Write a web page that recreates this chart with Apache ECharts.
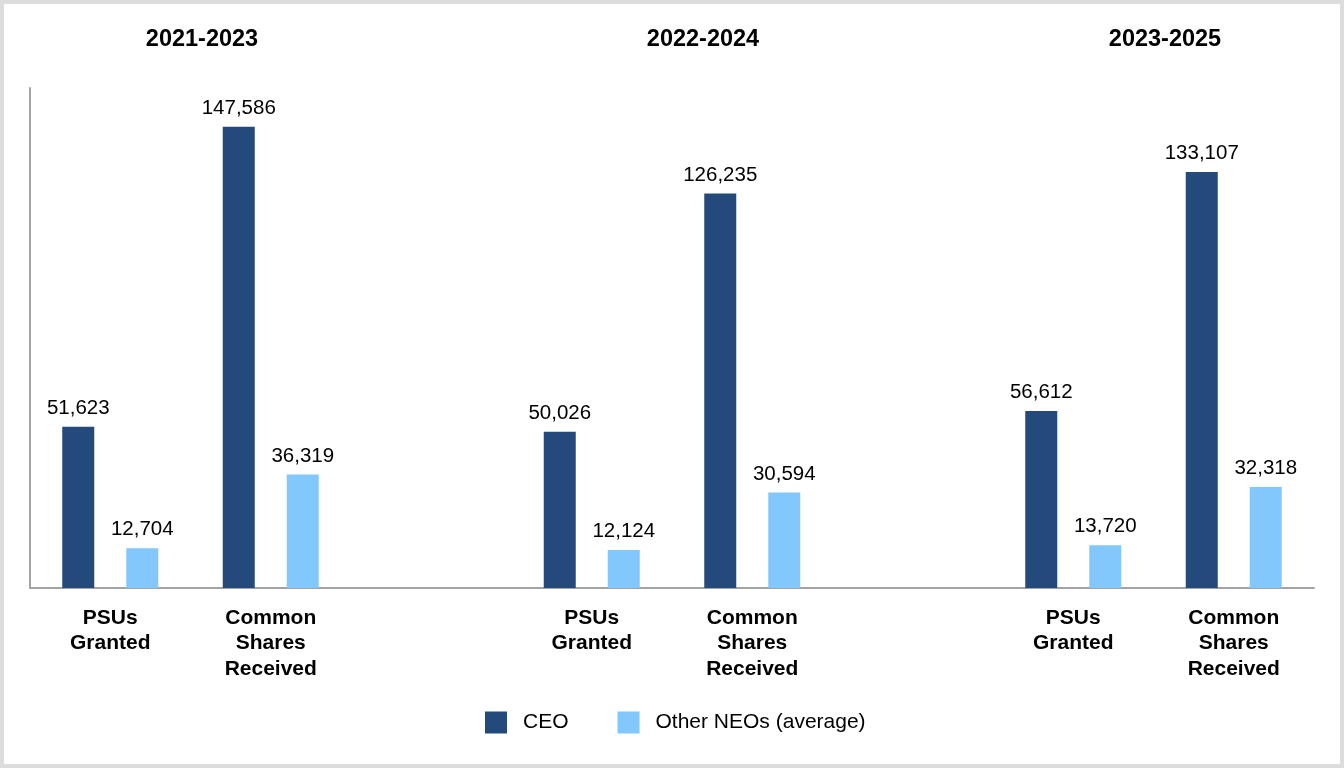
<!DOCTYPE html>
<html>
<head>
<meta charset="utf-8">
<script src="https://cdn.jsdelivr.net/npm/echarts@6/dist/echarts.min.js"></script>
<style>
html,body{margin:0;padding:0;background:#fff;}
#chart{width:1344px;height:768px;}
</style>
</head>
<body>
<div id="chart"></div>
<script>
const periods = ['2021-2023', '2022-2024', '2023-2025'];
const categoryKeys = ['psu1', 'csr1', 'gap1', 'psu2', 'csr2', 'gap2', 'psu3', 'csr3'];
const categoryLabels = ['PSUs\nGranted', 'Common\nShares\nReceived', '', 'PSUs\nGranted', 'Common\nShares\nReceived', '', 'PSUs\nGranted', 'Common\nShares\nReceived'];
const ceoValues = [51623, 147586, null, 50026, 126235, null, 56612, 133107];
const neoValues = [12704, 36319, null, 12124, 30594, null, 13720, 32318];
const seriesNames = ['CEO', 'Other NEOs (average)'];
const titleX = [202, 703, 1165];

const FONT = '"Liberation Sans", Arial, Helvetica, sans-serif';
const chart = echarts.init(document.getElementById('chart'));

const labelCfg = {
  show: true,
  position: 'top',
  distance: 8,
  color: '#000',
  fontSize: 20.5,
  fontFamily: FONT,
  formatter: p => p.value == null ? '' : Number(p.value).toLocaleString('en-US')
};

chart.setOption({
  backgroundColor: '#fff',
  animation: false,
  textStyle: { fontFamily: FONT },
  grid: { left: 30, right: 30, top: 88, bottom: 180, containLabel: false },
  legend: {
    data: seriesNames,
    left: 485,
    top: 711.5,
    padding: 0,
    itemWidth: 22,
    itemHeight: 22,
    itemGap: 49,
    icon: 'rect',
    textStyle: { fontSize: 21, color: '#000', fontFamily: FONT, padding: [0, 0, 0, 11] }
  },
  xAxis: {
    type: 'category',
    data: categoryKeys,
    axisLine: { show: true, lineStyle: { color: '#a3a3a3', width: 2 } },
    axisTick: { show: false },
    axisLabel: {
      interval: 0,
      margin: 17,
      fontSize: 21,
      fontWeight: 'bold',
      color: '#000',
      lineHeight: 25.5,
      fontFamily: FONT,
      formatter: (v, i) => categoryLabels[i]
    }
  },
  yAxis: {
    type: 'value',
    min: 0,
    max: 160000,
    axisLine: { show: true, lineStyle: { color: '#a3a3a3', width: 2 } },
    axisTick: { show: false },
    axisLabel: { show: false },
    splitLine: { show: false }
  },
  series: [
    {
      name: seriesNames[0],
      type: 'bar',
      data: ceoValues,
      barWidth: 32,
      barGap: '100%',
      itemStyle: { color: '#234a7a' },
      label: labelCfg
    },
    {
      name: seriesNames[1],
      type: 'bar',
      data: neoValues,
      barWidth: 32,
      barGap: '100%',
      itemStyle: { color: '#83c8fc' },
      label: labelCfg
    }
  ],
  graphic: [
    {
      type: 'rect',
      shape: { x: 2, y: 2, width: 1340, height: 764 },
      style: { fill: 'none', stroke: '#dcdcdc', lineWidth: 4 },
      silent: true
    }
  ].concat(periods.map((p, i) => ({
    type: 'text',
    x: titleX[i],
    y: 40,
    style: {
      text: p,
      fill: '#000',
      font: 'bold 23.5px ' + FONT,
      textAlign: 'center',
      textVerticalAlign: 'middle'
    }
  })))
});
</script>
</body>
</html>
